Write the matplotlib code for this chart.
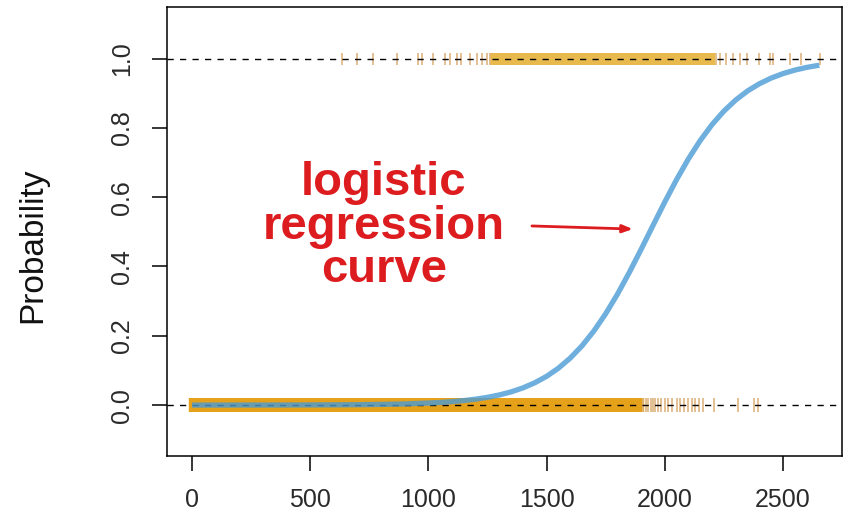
"""Logistic regression curve - probability vs balance"""
import matplotlib
matplotlib.use("Agg")
import matplotlib.pyplot as plt

plt.rcParams['font.family'] = ['Liberation Sans', 'DejaVu Sans']

# fitted curve
curve_balance = [0, 100, 200, 300, 400, 500, 600, 700, 800, 900, 1000,
                 1050, 1100, 1150, 1200, 1250, 1300, 1350, 1400, 1450, 1500,
                 1550, 1600, 1650, 1700, 1750, 1800, 1850, 1900, 1950, 2000,
                 2050, 2100, 2150, 2200, 2250, 2300, 2350, 2400, 2450, 2500,
                 2550, 2600, 2654]
curve_prob = [0.0000, 0.0000, 0.0001, 0.0001, 0.0002, 0.0004, 0.0006, 0.0011,
              0.0019, 0.0033, 0.0058, 0.0076, 0.0099, 0.0130, 0.0171, 0.0224,
              0.0292, 0.0381, 0.0496, 0.0643, 0.0829, 0.1064, 0.1355, 0.1711,
              0.2137, 0.2635, 0.3201, 0.3827, 0.4494, 0.5180, 0.5859, 0.6507,
              0.7103, 0.7635, 0.8095, 0.8483, 0.8804, 0.9065, 0.9273, 0.9438,
              0.9567, 0.9668, 0.9746, 0.9810]

# observations (rug marks) at 0 = no default, 1 = default
no_dense = [0, 25, 50, 75, 100, 125, 150, 175, 200, 225, 250, 275, 300, 325,
            350, 375, 400, 425, 450, 475, 500, 525, 550, 575, 600, 625, 650,
            675, 700, 725, 750, 775, 800, 825, 850, 875, 900, 925, 950, 975,
            1000, 1025, 1050, 1075, 1100, 1125, 1150, 1175, 1200, 1225, 1250,
            1275, 1300, 1325, 1350, 1375, 1400, 1425, 1450, 1475, 1500, 1525,
            1550, 1575, 1600, 1625, 1650, 1675, 1700, 1725, 1750, 1775, 1800,
            1825, 1850, 1875, 1900]
no_sparse = [1910, 1920, 1930, 1940, 1950, 1960, 1970, 1985, 2000, 2013,
             2030, 2050, 2064, 2080, 2098, 2115, 2128, 2145, 2162, 2207,
             2309, 2377, 2394]
yes_dense = [1275, 1300, 1325, 1350, 1375, 1400, 1425, 1450, 1475, 1500, 1525,
             1550, 1575, 1600, 1625, 1650, 1675, 1700, 1725, 1750, 1775, 1800,
             1825, 1850, 1875, 1900, 1925, 1950, 1975, 2000, 2025, 2050, 2075,
             2100, 2125, 2150, 2175, 2200]
yes_sparse = [633, 696, 766, 866, 956, 971, 1020, 1070, 1091, 1119, 1140,
              1175, 1204, 1225, 1246, 1260, 2215, 2235, 2260, 2290, 2320,
              2350, 2400, 2445, 2460, 2530, 2575, 2655]

x_ticks = [0, 500, 1000, 1500, 2000, 2500]
y_ticks = [0.0, 0.2, 0.4, 0.6, 0.8, 1.0]

ORANGE = '#E6A11A'
GOLD = '#E8BA4E'
ORANGE_LIGHT = '#DFB480'
BLUE = '#4A9BD6'
RED = '#DD1C1F'

fig = plt.figure(figsize=(8.47, 5.13), dpi=100)
ax = fig.add_axes([167 / 847, 1 - 456 / 513, (842 - 167) / 847, (456 - 7) / 513])

# rug marks
ax.plot(no_dense, [0] * len(no_dense), ls='none', marker='|', ms=10.5, mew=4.6,
        color=ORANGE, zorder=1)
ax.plot(no_sparse, [0] * len(no_sparse), ls='none', marker='|', ms=10.5, mew=1.2,
        color=ORANGE_LIGHT, zorder=1)
ax.plot(yes_dense, [1] * len(yes_dense), ls='none', marker='|', ms=9, mew=4.6,
        color=GOLD, zorder=1)
ax.plot(yes_sparse, [1] * len(yes_sparse), ls='none', marker='|', ms=9, mew=1.2,
        color=ORANGE_LIGHT, zorder=1)

# reference lines
for yv in (0, 1):
    ax.axhline(yv, color='black', lw=1.0, ls=(0, (4.5, 4.5)), zorder=2)

# logistic curve
ax.plot(curve_balance, curve_prob, color=BLUE, lw=3.8, alpha=0.8,
        solid_capstyle='butt', zorder=3)

# annotation
ax.text(812, 0.515, 'logistic\nregression\ncurve', color=RED, fontsize=34,
        fontweight='bold', ha='center', va='center', linespacing=0.99)
ax.annotate('', xy=(1865, 0.508), xytext=(1438, 0.517),
            arrowprops=dict(arrowstyle='-|>,head_length=0.6,head_width=0.23',
                            color=RED, lw=2, shrinkA=0, shrinkB=0))

ax.set_xlim(-106, 2750)
ax.set_ylim(-0.147, 1.149)
ax.set_xticks(x_ticks)
ax.set_xticklabels([str(v) for v in x_ticks])
ax.set_yticks(y_ticks)
ax.set_yticklabels([f'{v:.1f}' for v in y_ticks], rotation=90, va='center')
ax.tick_params(axis='both', length=11, width=1.1, labelsize=18,
               labelcolor='#2a2a2a')
ax.tick_params(axis='x', pad=12)
ax.tick_params(axis='y', pad=13)
for sp in ax.spines.values():
    sp.set_linewidth(1.1)

ax.set_ylabel('Probability', fontsize=24, color='#111111', va='center')
ax.yaxis.set_label_coords((33 - 167) / 675, 0.47)

fig.savefig('out.png', dpi=100)
